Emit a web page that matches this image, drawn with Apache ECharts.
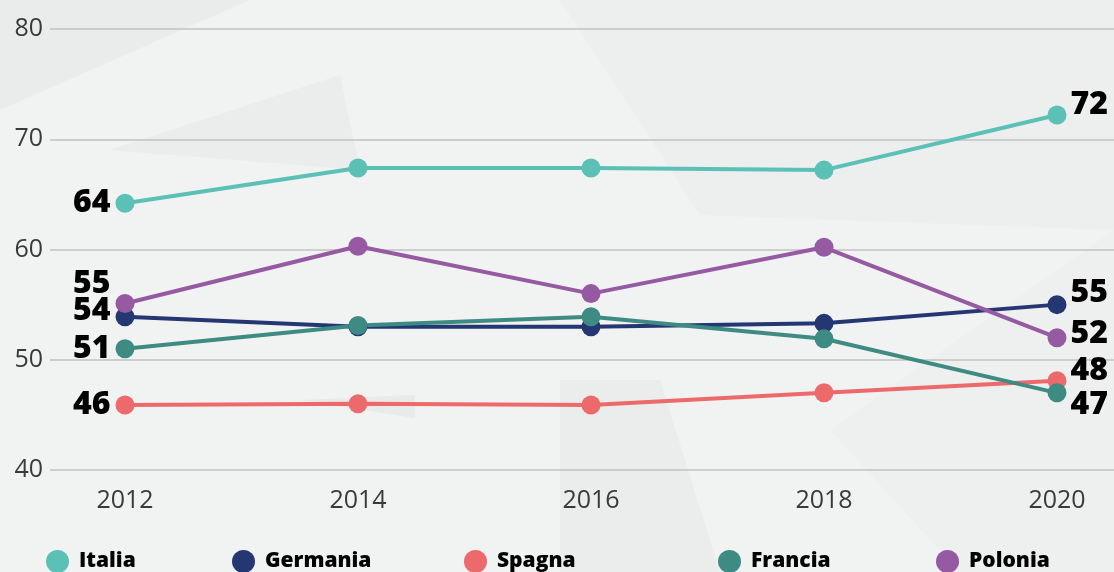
<!DOCTYPE html>
<html>
<head>
<meta charset="utf-8">
<script src="https://cdn.jsdelivr.net/npm/echarts@6/dist/echarts.min.js"></script>
<style>
html,body{margin:0;padding:0;background:#f1f2f2;}
#main{width:1114px;height:572px;}
</style>
</head>
<body>
<div id="main"></div>
<script>
// anni e valori
var years = ['2012', '2014', '2016', '2018', '2020'];
var italia = [64.2, 67.4, 67.4, 67.2, 72.2];
var germania = [53.9, 53.0, 53.0, 53.3, 55.0];
var spagna = [45.9, 46.0, 45.9, 47.0, 48.1];
var francia = [51.0, 53.1, 53.9, 51.9, 47.0];
var polonia = [55.1, 60.3, 56.0, 60.2, 52.0];
var yTicks = [40, 50, 60, 70, 80];

var font = 'Open Sans';
// nome, dati, colore, spostamento etichetta [primo, ultimo]
var lines = [
    {name: 'Italia', data: italia, color: '#5bc0b6', off: [0, -10]},
    {name: 'Germania', data: germania, color: '#253773', off: [-6, -12]},
    {name: 'Spagna', data: spagna, color: '#ec6a6b', off: [0, -10]},
    {name: 'Francia', data: francia, color: '#3e8b84', off: [0, 12]},
    {name: 'Polonia', data: polonia, color: '#955aa1', off: [-20, -4]}
];
var legendLeft = [41, 227, 459, 713, 931];

var chart = echarts.init(document.getElementById('main'));

var series = [];
lines.forEach(function(l){
    var pts = l.data.map(function(v, i){
        var item = {value: v};
        if(i == 0 || i == l.data.length - 1){
            var first = i == 0;
            item.label = {
                show: true,
                position: first ? 'left' : 'right',
                distance: first ? 5 : 4,
                offset: [0, first ? l.off[0] : l.off[1]],
                formatter: function(p){ return Math.round(p.value); },
                color: '#000',
                fontFamily: font,
                fontWeight: 800,
                fontSize: 32
            };
        }
        return item;
    });
    series.push({
        name: l.name,
        type: 'line',
        xAxisIndex: 1,
        yAxisIndex: 1,
        data: pts,
        symbol: 'circle',
        symbolSize: 19,
        lineStyle: {width: 4, color: l.color},
        itemStyle: {color: l.color},
        emphasis: {disabled: true},
        animation: false
    });
});

var legends = lines.map(function(l, i){
    return {
        data: [l.name],
        left: legendLeft[i],
        top: 545,
        icon: 'circle',
        itemWidth: 23,
        itemHeight: 23,
        selectedMode: false,
        textStyle: {color: '#000', fontFamily: font, fontWeight: 800, fontSize: 21, padding: [0, 0, 0, 5]}
    };
});

var option = {
    backgroundColor: '#f1f2f2',
    graphic: [
        {type: 'polygon', z: -10, shape: {points: [[0, 0], [250, 0], [0, 110]]}, style: {fill: '#eaebeb'}},
        {type: 'polygon', z: -10, shape: {points: [[110, 150], [340, 75], [360, 170]]}, style: {fill: '#ebecec'}},
        {type: 'polygon', z: -10, shape: {points: [[560, 0], [1114, 0], [1114, 230], [700, 215]]}, style: {fill: '#edeeee'}},
        {type: 'polygon', z: -10, shape: {points: [[560, 380], [660, 380], [720, 572], [560, 572]]}, style: {fill: '#ebecec'}},
        {type: 'polygon', z: -10, shape: {points: [[830, 430], [1114, 230], [1114, 572], [960, 572]]}, style: {fill: '#eeefef'}},
        {type: 'polygon', z: -10, shape: {points: [[300, 400], [415, 395], [415, 418]]}, style: {fill: '#e9eaea'}}
    ],
    grid: [
        {left: 50, right: 0, top: 29, bottom: 102},
        {left: 125, right: 57, top: 29, bottom: 102}
    ],
    xAxis: [
        {type: 'value', gridIndex: 0, min: 0, max: 1, show: false},
        {
            type: 'category', gridIndex: 1, data: years, boundaryGap: false,
            axisLine: {show: false}, axisTick: {show: false},
            axisLabel: {color: '#3a3a3a', fontFamily: font, fontSize: 25, margin: 18}
        }
    ],
    yAxis: [
        {
            type: 'value', gridIndex: 0, min: yTicks[0], max: yTicks[yTicks.length - 1], interval: 10,
            axisLine: {show: false}, axisTick: {show: false},
            axisLabel: {color: '#3a3a3a', fontFamily: font, fontSize: 25, margin: 7},
            splitLine: {lineStyle: {color: '#c2c2c2', width: 1.5}}
        },
        {type: 'value', gridIndex: 1, min: yTicks[0], max: yTicks[yTicks.length - 1], show: false, splitLine: {show: false}}
    ],
    legend: legends,
    series: series
};
chart.setOption(option);
</script>
</body>
</html>
